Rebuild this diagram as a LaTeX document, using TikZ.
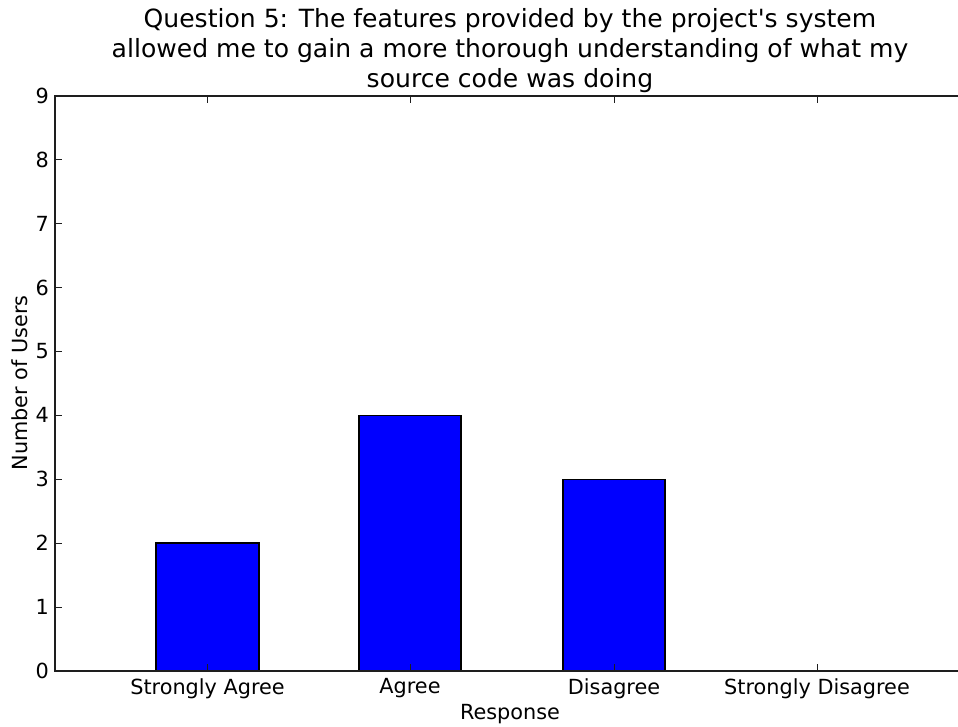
\documentclass[tikz,border=0pt]{standalone}
\usepackage{fontspec}
\setmainfont{DejaVu Sans}
\usepackage{xcolor}
\usepackage{tikz}
\definecolor{barblue}{RGB}{0, 0, 255}
\definecolor{axisgray}{RGB}{30, 30, 30}
\tikzset{
  bar/.style={fill=barblue, draw=black, line width=1.1pt},
  spine/.style={draw=axisgray, line width=1.1pt},
  tickmark/.style={draw=axisgray, line width=0.7pt},
  ticklabel/.style={font=\fontsize{15.6}{18}\selectfont, inner sep=0pt}
}
\begin{document}
\begin{tikzpicture}[x=0.75pt, y=0.75pt]
\useasboundingbox (0,0) rectangle (958,727);
\clip (0,0) rectangle (958,727);

% bars (heights 2, 4, 3, 0)
\draw[bar] (156,56) rectangle (259,183.8);
\draw[bar] (359,56) rectangle (461,311.6);
\draw[bar] (563,56) rectangle (665,247.7);
\draw[bar] (766,56) rectangle (868,56);

% axes frame
\draw[spine] (961,56) -- (55,56) -- (55,631) -- (961,631) -- cycle;

% y ticks
\foreach \k in {0,...,9} {
  \draw[tickmark] (55,56+63.9*\k) -- ++(7,0);
  \node[ticklabel, anchor=east] (ytick\k) at (49,56+63.9*\k) {\k};
}

% x ticks
\foreach \xx/\lab [count=\i] in {207.5/Strongly Agree, 410/Agree, 614/Disagree, 817/Strongly Disagree} {
  \draw[tickmark] (\xx,56) -- ++(0,7);
  \draw[tickmark] (\xx,631) -- ++(0,-7);
  \node[ticklabel, anchor=north] (xtick\i) at (\xx,49) {\lab};
}

\node[ticklabel, anchor=north] (xlabel) at (510,23) {Response};
\node[ticklabel, rotate=90] (ylabel) at (19.5,344) {Number of Users};

\node[font=\fontsize{18.8}{22.5}\selectfont, align=center, anchor=south, inner sep=0pt] (title) at (510,634)
  {Question 5: The features provided by the project\textquotesingle s system\\
   allowed me to gain a more thorough understanding of what my\\
   source code was doing};
\end{tikzpicture}
\end{document}
